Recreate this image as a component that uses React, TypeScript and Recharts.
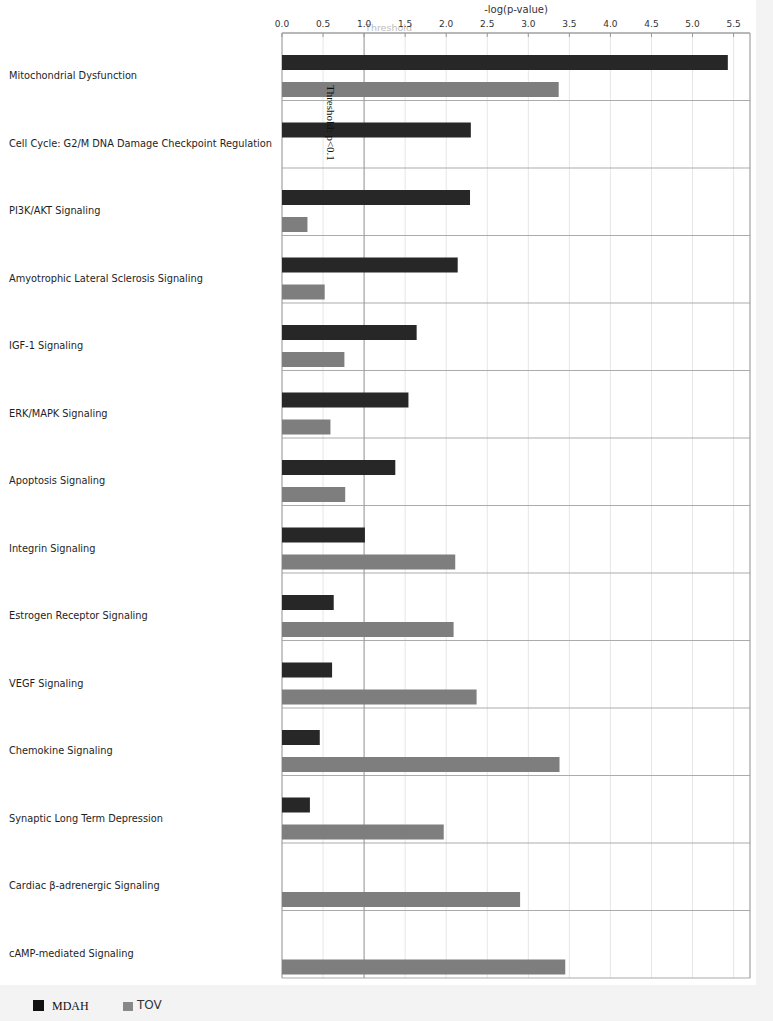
import React from 'react';
import { BarChart, Bar, XAxis, YAxis, CartesianGrid, ReferenceLine, Legend } from 'recharts';

const categories = [
  'Mitochondrial Dysfunction',
  'Cell Cycle: G2/M DNA Damage Checkpoint Regulation',
  'PI3K/AKT Signaling',
  'Amyotrophic Lateral Sclerosis Signaling',
  'IGF-1 Signaling',
  'ERK/MAPK Signaling',
  'Apoptosis Signaling',
  'Integrin Signaling',
  'Estrogen Receptor Signaling',
  'VEGF Signaling',
  'Chemokine Signaling',
  'Synaptic Long Term Depression',
  'Cardiac β-adrenergic Signaling',
  'cAMP-mediated Signaling',
];
const mdahValues: (number | null)[] = [5.43, 2.3, 2.29, 2.14, 1.64, 1.54, 1.38, 1.01, 0.63, 0.61, 0.46, 0.34, null, null];
const tovValues: (number | null)[] = [3.37, null, 0.31, 0.52, 0.76, 0.59, 0.77, 2.11, 2.09, 2.37, 3.38, 1.97, 2.9, 3.45];
const xTicks = [0, 0.5, 1, 1.5, 2, 2.5, 3, 3.5, 4, 4.5, 5, 5.5];
const xMax = 5.7;
const thresholdValue = 1.0;
const seriesNames = ['MDAH', 'TOV'];
const axisTitle = '-log(p-value)';
const thresholdTop = 'Threshold';
const thresholdSide = 'Threshold: p<0.1';

const data = categories.map((name, i) => ({ name, MDAH: mdahValues[i], TOV: tovValues[i] }));

const W = 773;
const H = 1021;
const PAD_TOP = 9; // bars sit lower than row frame
const FRAME_H = 945;
const SANS = '"DejaVu Sans", Verdana, sans-serif';
const SERIF = '"Liberation Serif", "Times New Roman", serif';

const seriesStyle: Record<string, { fill: string }> = {
  MDAH: { fill: '#272727' },
  TOV: { fill: '#7e7e7e' },
};

const XTick = (props: any) => {
  const { x, y, payload } = props;
  return (
    <g>
      <text x={x} y={y - 6} textAnchor="middle" fontSize={9} fontFamily={SANS} fill="#333">
        {Number(payload.value).toFixed(1)}
      </text>
      <line x1={x} x2={x} y1={y} y2={y + 4} stroke="#999" />
    </g>
  );
};

const YTick = (props: any) => {
  const { y, payload } = props;
  return (
    <text x={9} y={y} dy="0.35em" textAnchor="start" fontSize={9.8} fontFamily={SANS} fill="#1e1e1e">
      {payload.value}
    </text>
  );
};

const AxisTitle = (props: any) => {
  const vb = props.viewBox || {};
  return (
    <text x={vb.x + vb.width / 2} y={vb.y + 13} textAnchor="middle" fontSize={10} fontFamily={SANS} fill="#333">
      {axisTitle}
    </text>
  );
};

const ThresholdLabel = (props: any) => {
  const vb = props.viewBox || {};
  const x = vb.x;
  const y = vb.y;
  return (
    <g>
      <text x={x + 1} y={y - 2} textAnchor="start" fontSize={9.5} fontFamily={SANS} fill="#bdbdbd">
        {thresholdTop}
      </text>
      <text
        x={x - 33}
        y={y + 52}
        transform={`rotate(90, ${x - 33}, ${y + 52})`}
        textAnchor="start"
        dominantBaseline="central"
        fontSize={11}
        fontFamily={SERIF}
        fill="#111"
      >
        {thresholdSide}
      </text>
    </g>
  );
};

const LegendContent = () => (
  <div style={{ position: 'relative', width: 300, height: 22 }}>
    <div style={{ position: 'absolute', left: 33, top: 5, width: 11, height: 11, background: '#111' }} />
    <div
      style={{ position: 'absolute', left: 52, top: 2, fontFamily: SERIF, fontSize: 12, color: '#111', lineHeight: '18px' }}
    >
      {seriesNames[0]}
    </div>
    <div style={{ position: 'absolute', left: 123, top: 7, width: 10, height: 9, background: '#888' }} />
    <div
      style={{ position: 'absolute', left: 137, top: 1, fontFamily: SANS, fontSize: 12, color: '#333', lineHeight: '18px' }}
    >
      {seriesNames[1]}
    </div>
  </div>
);

export default function App() {
  return (
    <div style={{ position: 'absolute', left: 0, top: 0, width: W, height: H, background: '#f3f3f3', overflow: 'hidden' }}>
      <div style={{ position: 'absolute', left: 0, top: 0, width: 756, height: 985, background: '#ffffff' }} />
      <div style={{ position: 'absolute', left: 0, top: 0 }}>
        <BarChart
          width={W}
          height={H}
          data={data}
          layout="vertical"
          margin={{ top: 0, right: 23, bottom: 34, left: 0 }}
          barGap={12}
          barSize={15}
        >
          <CartesianGrid horizontal={false} stroke="#e6e6e6" y={33} height={FRAME_H} fill="none" />
          <CartesianGrid
            vertical={false}
            stroke="#ababab"
            fill="none"
            horizontalCoordinatesGenerator={({ offset }: any) => {
              const n = categories.length;
              const band = (offset.height - PAD_TOP) / n;
              return Array.from({ length: n + 1 }, (_, k) => offset.top + k * band);
            }}
          />
          <CartesianGrid
            horizontal={false}
            stroke="#9a9a9a"
            fill="none"
            y={33}
            height={FRAME_H}
            verticalCoordinatesGenerator={({ offset }: any) => [
              offset.left,
              offset.left + (thresholdValue / xMax) * offset.width,
              offset.left + offset.width,
            ]}
          />
          <XAxis
            type="number"
            orientation="top"
            domain={[0, xMax]}
            ticks={xTicks}
            height={33}
            axisLine={{ stroke: '#9a9a9a' }}
            tickLine={false}
            tickSize={0}
            tickMargin={0}
            tick={<XTick />}
            label={{ content: <AxisTitle /> } as any}
          />
          <YAxis
            type="category"
            dataKey="name"
            width={282}
            padding={{ top: PAD_TOP, bottom: 0 }}
            axisLine={false}
            tickLine={false}
            interval={0}
            tick={<YTick />}
          />
          <ReferenceLine x={thresholdValue} stroke="none" label={<ThresholdLabel />} />
          {seriesNames.map((s) => (
            <Bar key={s} dataKey={s} fill={seriesStyle[s].fill} isAnimationActive={false} />
          ))}
          <Legend
            layout="horizontal"
            verticalAlign="middle"
            align="center"
            content={<LegendContent />}
            wrapperStyle={{ left: 0, top: 995, width: 300, height: 22 }}
          />
        </BarChart>
      </div>
    </div>
  );
}
